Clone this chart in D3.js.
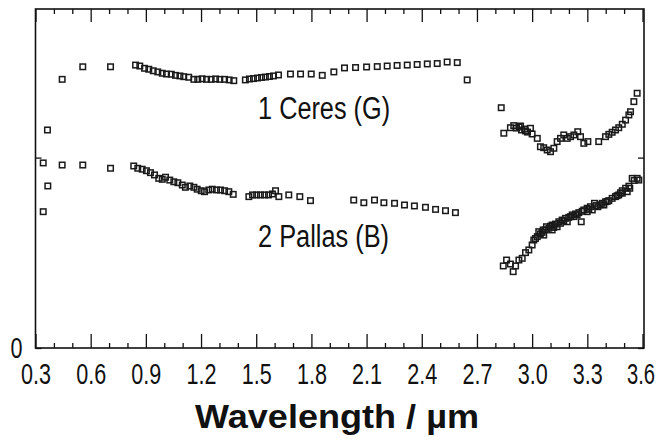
<!DOCTYPE html>
<html>
<head>
<meta charset="utf-8">
<script src="https://cdn.jsdelivr.net/npm/d3@7"></script>
<style>
  body { margin: 0; background: #fff; }
  #chart { width: 662px; height: 446px; }
  text { font-family: "Liberation Sans Narrow", "Liberation Sans", Arial, sans-serif; fill: #111; }
</style>
</head>
<body>
<div id="chart"></div>
<script>
document.addEventListener('DOMContentLoaded', init, false);

var width = 662;
var height = 446;

// plot frame in page pixels
var frame = { left: 35.5, right: 644, top: 9, bottom: 348 };

var xDomain = [0.3, 3.6];
var yDomain = [0, 1.78];

var majorTicks = [0.3, 0.6, 0.9, 1.2, 1.5, 1.8, 2.1, 2.4, 2.7, 3.0, 3.3, 3.6];
var minorTicks = [0.4, 0.5, 0.7, 0.8, 1.0, 1.1, 1.3, 1.4, 1.6, 1.7, 1.9, 2.0,
  2.2, 2.3, 2.5, 2.6, 2.8, 2.9, 3.1, 3.2, 3.4, 3.5];
var yTicks = [0, 1];

// [wavelength (um), relative reflectance + offset]
var ceres = [
  [0.342, 0.972], [0.365, 1.145], [0.445, 1.411], [0.557, 1.477], [0.708, 1.477],
  [0.844, 1.486], [0.867, 1.481], [0.893, 1.469], [0.916, 1.464], [0.940, 1.456],
  [0.965, 1.450], [0.989, 1.443], [1.012, 1.439], [1.038, 1.438], [1.061, 1.432],
  [1.085, 1.429], [1.106, 1.425], [1.133, 1.422], [1.161, 1.411], [1.182, 1.411],
  [1.206, 1.414], [1.230, 1.411], [1.255, 1.411], [1.279, 1.413], [1.302, 1.411],
  [1.328, 1.411], [1.353, 1.408], [1.378, 1.404],
  [1.441, 1.408], [1.463, 1.413], [1.485, 1.415], [1.507, 1.418], [1.529, 1.421],
  [1.550, 1.423], [1.572, 1.426], [1.594, 1.429], [1.621, 1.434],
  [1.686, 1.439], [1.741, 1.439], [1.799, 1.439], [1.859, 1.432], [1.922, 1.450],
  [1.980, 1.471], [2.040, 1.473], [2.100, 1.476], [2.158, 1.478], [2.212, 1.481],
  [2.266, 1.484], [2.321, 1.486], [2.375, 1.489], [2.430, 1.492], [2.484, 1.494],
  [2.538, 1.502], [2.593, 1.499], [2.647, 1.408],
  [2.832, 1.262], [2.846, 1.128], [2.882, 1.157], [2.900, 1.168], [2.915, 1.155],
  [2.929, 1.161], [2.937, 1.166], [2.942, 1.145], [2.959, 1.150], [2.964, 1.140],
  [2.975, 1.134], [2.991, 1.154], [3.000, 1.124], [3.028, 1.101], [3.045, 1.057],
  [3.063, 1.052], [3.082, 1.040], [3.100, 1.031], [3.118, 1.049], [3.136, 1.084],
  [3.154, 1.101], [3.172, 1.119], [3.191, 1.101], [3.209, 1.110], [3.227, 1.119],
  [3.248, 1.136], [3.263, 1.110], [3.281, 1.075], [3.303, 1.084], [3.362, 1.084],
  [3.399, 1.110], [3.417, 1.122], [3.435, 1.133], [3.453, 1.145], [3.471, 1.157],
  [3.490, 1.175], [3.508, 1.197], [3.526, 1.224], [3.535, 1.241], [3.553, 1.294],
  [3.571, 1.338]
];

var pallas = [
  [0.342, 0.716], [0.367, 0.851], [0.445, 0.961], [0.557, 0.961], [0.708, 0.944],
  [0.834, 0.956], [0.856, 0.944], [0.880, 0.939], [0.903, 0.931], [0.925, 0.921],
  [0.947, 0.909], [0.970, 0.891], [0.989, 0.886], [1.007, 0.897], [1.030, 0.882],
  [1.052, 0.873], [1.074, 0.868], [1.098, 0.856], [1.115, 0.844], [1.139, 0.851],
  [1.161, 0.844], [1.179, 0.834], [1.201, 0.826], [1.219, 0.821], [1.242, 0.830],
  [1.261, 0.834], [1.284, 0.830], [1.306, 0.830], [1.328, 0.826], [1.351, 0.821],
  [1.375, 0.807],
  [1.460, 0.795], [1.480, 0.804], [1.502, 0.804], [1.523, 0.804], [1.545, 0.804],
  [1.567, 0.804], [1.588, 0.809], [1.605, 0.826], [1.623, 0.795], [1.677, 0.804],
  [1.737, 0.795], [1.795, 0.774],
  [2.030, 0.777], [2.085, 0.763], [2.143, 0.777], [2.194, 0.763], [2.252, 0.760],
  [2.306, 0.751], [2.360, 0.746], [2.420, 0.739], [2.475, 0.728], [2.529, 0.721],
  [2.583, 0.711],
  [2.843, 0.431], [2.861, 0.462], [2.882, 0.441], [2.897, 0.401], [2.910, 0.431],
  [2.928, 0.462], [2.946, 0.471], [2.964, 0.501], [2.982, 0.515], [3.000, 0.541],
  [3.009, 0.567], [3.018, 0.575], [3.028, 0.585], [3.036, 0.611], [3.045, 0.599],
  [3.054, 0.607], [3.060, 0.620], [3.063, 0.593], [3.072, 0.620], [3.078, 0.637],
  [3.091, 0.629], [3.100, 0.640], [3.109, 0.646], [3.109, 0.620], [3.118, 0.633],
  [3.127, 0.651], [3.136, 0.637], [3.145, 0.663], [3.154, 0.655], [3.163, 0.672],
  [3.172, 0.668], [3.181, 0.681], [3.191, 0.663], [3.199, 0.686], [3.209, 0.690],
  [3.218, 0.699], [3.227, 0.690], [3.236, 0.704], [3.245, 0.700], [3.254, 0.711],
  [3.267, 0.663], [3.272, 0.718], [3.281, 0.725], [3.299, 0.734], [3.299, 0.716],
  [3.308, 0.728], [3.317, 0.742], [3.327, 0.725], [3.339, 0.760], [3.348, 0.748],
  [3.357, 0.742], [3.370, 0.752], [3.381, 0.760], [3.390, 0.751], [3.399, 0.768],
  [3.408, 0.770], [3.417, 0.774], [3.435, 0.786], [3.453, 0.795], [3.462, 0.800],
  [3.471, 0.804], [3.480, 0.815], [3.490, 0.826], [3.490, 0.813], [3.508, 0.839],
  [3.517, 0.821], [3.526, 0.850], [3.531, 0.839], [3.544, 0.891], [3.555, 0.880],
  [3.571, 0.891], [3.580, 0.882]
];

var labels = [
  { text: '1 Ceres (G)', x: 1.51, y: 1.205, len: 132 },
  { text: '2 Pallas (B)', x: 1.51, y: 0.532, len: 131 }
];

var xTitle = 'Wavelength / \u00b5m';

function init() {

  var svg = d3.select('#chart')
    .append('svg')
      .attr('width', width)
      .attr('height', height)
      .attr('viewBox', '0 0 ' + width + ' ' + height);

  var scale = drawAxis(svg);

  drawPoints(svg, scale, ceres);
  drawPoints(svg, scale, pallas);
  drawLabels(svg, scale);
}

function drawAxis(svg) {

  var xScale = d3.scaleLinear()
    .domain(xDomain)
    .range([frame.left, 642.5]);

  var yScale = d3.scaleLinear()
    .domain(yDomain)
    .range([frame.bottom, frame.bottom - yDomain[1] * 190.4]);

  // minor ticks, top and bottom, pointing inward
  svg.append('g')
    .attr('class', 'axis minor')
    .attr('transform', 'translate(0,' + frame.bottom + ')')
    .call(d3.axisBottom(xScale).tickValues(minorTicks).tickSize(-5).tickFormat(''));

  svg.append('g')
    .attr('class', 'axis minor')
    .attr('transform', 'translate(0,' + frame.top + ')')
    .call(d3.axisTop(xScale).tickValues(minorTicks).tickSize(-5).tickFormat(''));

  var bottom = svg.append('g')
    .attr('class', 'axis major')
    .attr('transform', 'translate(0,' + frame.bottom + ')')
    .call(d3.axisBottom(xScale).tickValues(majorTicks).tickSize(-14).tickPadding(15.5)
      .tickFormat(d3.format('.1f')));

  bottom.selectAll('text')
    .attr('font-size', 29)
    .attr('textLength', 30)
    .attr('lengthAdjust', 'spacingAndGlyphs');

  // last label sits against the page edge: anchor it at its right end
  bottom.selectAll('.tick')
    .filter(function (d) { return d === xDomain[1]; })
    .select('text')
      .attr('text-anchor', 'end')
      .attr('textLength', 28)
      .attr('x', 12);

  svg.append('g')
    .attr('class', 'axis major')
    .attr('transform', 'translate(0,' + frame.top + ')')
    .call(d3.axisTop(xScale).tickValues(majorTicks).tickSize(-13).tickFormat(''));

  var left = svg.append('g')
    .attr('class', 'axis')
    .attr('transform', 'translate(' + frame.left + ',0)')
    .call(d3.axisLeft(yScale).tickValues(yTicks).tickSize(-6).tickPadding(13)
      .tickFormat(function (d) { return d === 0 ? '0' : ''; }));

  left.selectAll('text')
    .attr('font-size', 29)
    .attr('textLength', 12)
    .attr('lengthAdjust', 'spacingAndGlyphs');

  svg.append('g')
    .attr('class', 'axis')
    .attr('transform', 'translate(' + frame.right + ',0)')
    .call(d3.axisRight(yScale).tickValues(yTicks).tickSize(-6).tickFormat(''));

  svg.selectAll('.axis .domain').remove();
  svg.selectAll('.axis line')
    .attr('stroke', '#111')
    .attr('stroke-width', 1.3);
  svg.selectAll('.axis text')
    .attr('fill', '#111')
    .attr('font-family', '"Liberation Sans Narrow", "Liberation Sans", Arial, sans-serif');

  svg.append('rect')
    .attr('x', frame.left)
    .attr('y', frame.top)
    .attr('width', frame.right - frame.left)
    .attr('height', frame.bottom - frame.top)
    .attr('fill', 'none')
    .attr('stroke', '#111')
    .attr('stroke-width', 1.6);

  svg.append('text')
    .attr('x', 337)
    .attr('y', 428)
    .attr('text-anchor', 'middle')
    .attr('font-family', '"Liberation Sans", Arial, sans-serif')
    .attr('font-size', 33)
    .attr('font-weight', 'bold')
    .attr('textLength', 284)
    .attr('lengthAdjust', 'spacingAndGlyphs')
    .text(xTitle);

  return { x: xScale, y: yScale };
}

function drawPoints(svg, scale, data) {

  var size = 5.5;

  svg.append('g')
      .attr('class', 'points')
    .selectAll('rect')
      .data(data)
      .enter()
    .append('rect')
      .attr('x', function (d) { return scale.x(d[0]) - size / 2; })
      .attr('y', function (d) { return scale.y(d[1]) - size / 2; })
      .attr('width', size)
      .attr('height', size)
      .attr('fill', 'none')
      .attr('stroke', '#1a1a1a')
      .attr('stroke-width', 1.5);
}

function drawLabels(svg, scale) {

  svg.append('g')
      .attr('class', 'labels')
    .selectAll('text')
      .data(labels)
      .enter()
    .append('text')
      .attr('x', function (d) { return scale.x(d.x); })
      .attr('y', function (d) { return scale.y(d.y); })
      .attr('font-size', 31)
      .attr('textLength', function (d) { return d.len; })
      .attr('lengthAdjust', 'spacingAndGlyphs')
      .text(function (d) { return d.text; });
}
</script>
</body>
</html>
